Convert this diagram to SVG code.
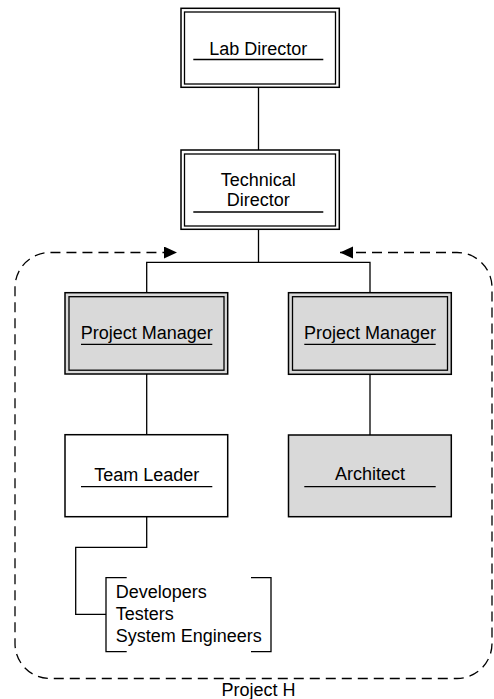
<svg xmlns="http://www.w3.org/2000/svg" width="494" height="699" viewBox="0 0 494 699">
<style>
text{font-family:"Liberation Sans",Arial,sans-serif;font-size:18px;fill:#000}
.c{text-anchor:middle}
.o{fill:#fff;stroke:#000;stroke-width:1.5}
.i{fill:none;stroke:#000;stroke-width:1.3}
.g{fill:#d9d9d9}
.u{stroke:#000;stroke-width:1.3}
.ln{fill:none;stroke:#000;stroke-width:1.3}
.dash{fill:none;stroke:#000;stroke-width:1.3;stroke-dasharray:10 6}
</style>
<defs>
<marker id="ah" markerUnits="userSpaceOnUse" markerWidth="14" markerHeight="13" refX="13" refY="6" orient="auto-start-reverse">
<path d="M0,0 L13,6 L0,12 Z" fill="#000"/>
</marker>
</defs>
<rect width="494" height="699" fill="#fff"/>
<g id="connectors">
<path class="ln" d="M258.5 87.3 V150"/>
<path class="ln" d="M258.5 229.3 V262.3 M146.7 292.7 V262.3 H370 V292.7"/>
<path class="ln" d="M146.7 374 V434.7"/>
<path class="ln" d="M370 374 V435"/>
<path class="ln" d="M146.7 516.7 V547.3 H75.7 V614.3 H106"/>
</g>
<g id="project-h">
<path class="dash" d="M340 252.5 H457 A35 35 0 0 1 492 287.5 V643.5 A35 35 0 0 1 457 678.5 H50 A35 35 0 0 1 15 643.5 V287.5 A35 35 0 0 1 50 252.5 H177" marker-start="url(#ah)" marker-end="url(#ah)"/>
<text class="c" x="258.5" y="696">Project H</text>
</g>
<g id="lab-director">
<rect class="o" x="181" y="8.3" width="158.3" height="79"/>
<rect class="i" x="184.5" y="12" width="151" height="72"/>
<text class="c" x="258.3" y="55">Lab Director</text>
<line class="u" x1="193.3" y1="59.5" x2="323.3" y2="59.5"/>
</g>
<g id="technical-director">
<rect class="o" x="181" y="150" width="158.3" height="79.3"/>
<rect class="i" x="184.5" y="154" width="151" height="72"/>
<text class="c" x="258.3" y="186">Technical</text>
<text class="c" x="258.3" y="206">Director</text>
<line class="u" x1="193.3" y1="212" x2="323.3" y2="212"/>
</g>
<g id="project-manager-left">
<rect class="o g" x="65" y="292.7" width="162.7" height="81.3"/>
<rect class="i" x="69" y="296.7" width="155" height="73.5"/>
<text class="c" x="146.7" y="338.5">Project Manager</text>
<line class="u" x1="81" y1="344.3" x2="212.3" y2="344.3"/>
</g>
<g id="project-manager-right">
<rect class="o g" x="288.5" y="292.7" width="162.8" height="81.6"/>
<rect class="i" x="292.5" y="296.7" width="155" height="73.5"/>
<text class="c" x="370" y="338.5">Project Manager</text>
<line class="u" x1="304.3" y1="344.3" x2="435.7" y2="344.3"/>
</g>
<g id="team-leader">
<rect class="o" x="65" y="434.7" width="162.7" height="82"/>
<text class="c" x="146.7" y="480.5">Team Leader</text>
<line class="u" x1="81" y1="486.7" x2="212.3" y2="486.7"/>
</g>
<g id="architect">
<rect class="o g" x="288.5" y="435" width="162.8" height="81.7"/>
<text class="c" x="370" y="480">Architect</text>
<line class="u" x1="304.3" y1="486.7" x2="435.7" y2="486.7"/>
</g>
<g id="team-members">
<path class="ln" d="M126.7 577.7 H106 V651.7 H126.7"/>
<path class="ln" d="M251 577.7 H271 V651.7 H251"/>
<text x="115.7" y="598.3">Developers</text>
<text x="115.7" y="620">Testers</text>
<text x="115.7" y="641.7">System Engineers</text>
</g>
</svg>
